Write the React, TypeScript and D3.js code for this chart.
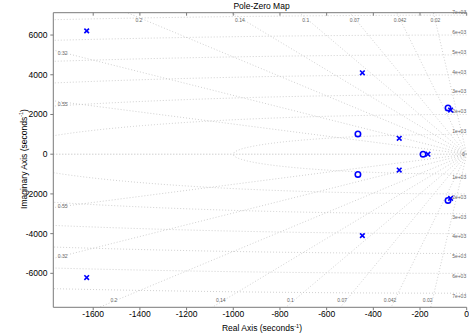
import * as d3 from "d3";
import React, { useRef, useEffect } from "react";

const W = 469;
const H = 335;

// plot box (pixels)
const left = 53.3;
const right = 466.7;
const top = 12.7;
const bottom = 307.3;

// axis limits
const xDomain = [-1771, 0];
const yDomain = [-7710, 7125];

const xTicks = [-1600, -1400, -1200, -1000, -800, -600, -400, -200, 0];
const yTicks = [-6000, -4000, -2000, 0, 2000, 4000, 6000];

// poles (x)
const poleRe = [-1628, -1628, -447, -447, -289, -289, -166, -69, -69];
const poleIm = [6210, -6210, 4100, -4100, 800, -800, 0, 2220, -2220];

// zeros (o)
const zeroRe = [-466, -466, -187, -80, -80];
const zeroIm = [1020, -1020, 0, 2330, -2330];

// grid
const dampingRatios = [0.02, 0.042, 0.07, 0.1, 0.14, 0.2, 0.32, 0.55];
const dampingLabels = ["0.02", "0.042", "0.07", "0.1", "0.14", "0.2", "0.32", "0.55"];
const naturalFreqs = [1000, 2000, 3000, 4000, 5000, 6000, 7000];
const freqLabels = ["1e+03", "2e+03", "3e+03", "4e+03", "5e+03", "6e+03", "7e+03"];

const font = "Liberation Sans, Arial, Helvetica, sans-serif";
const gridColor = "#c4c4c4";
const labelColor = "#666";

function PoleZeroMap() {
  const ref = useRef(null);

  useEffect(() => {
    const svg = d3.select(ref.current);
    svg.selectAll("*").remove();

    const x = d3.scaleLinear().domain(xDomain).range([left, right]);
    const y = d3.scaleLinear().domain(yDomain).range([bottom, top]);

    svg
      .append("defs")
      .append("clipPath")
      .attr("id", "plot-clip")
      .append("rect")
      .attr("x", left)
      .attr("y", top)
      .attr("width", right - left)
      .attr("height", bottom - top);

    const grid = svg.append("g").attr("clip-path", "url(#plot-clip)");

    // natural frequency circles (left half)
    const arc = (w) =>
      d3
        .line()
        .x((t) => x(-w * Math.sin(t)))
        .y((t) => y(w * Math.cos(t)))(d3.range(0, Math.PI + 0.0005, Math.PI / 720));

    grid
      .selectAll(".wn")
      .data(naturalFreqs)
      .join("path")
      .attr("d", (w) => arc(w))
      .attr("fill", "none")
      .attr("stroke", gridColor)
      .attr("stroke-width", 0.8)
      .attr("stroke-dasharray", "1,2");

    // damping rays
    const far = 20000;
    dampingRatios.forEach((z) => {
      const s = Math.sqrt(1 - z * z);
      [1, -1].forEach((sg) => {
        grid
          .append("line")
          .attr("x1", x(0))
          .attr("y1", y(0))
          .attr("x2", x(-z * far))
          .attr("y2", y(sg * s * far))
          .attr("stroke", gridColor)
          .attr("stroke-width", 0.8)
          .attr("stroke-dasharray", "1,2");
      });
    });

    // real axis
    grid
      .append("line")
      .attr("x1", left)
      .attr("x2", right)
      .attr("y1", y(0))
      .attr("y2", y(0))
      .attr("stroke", "#aaa")
      .attr("stroke-width", 0.8)
      .attr("stroke-dasharray", "1,2");

    // damping labels
    const lab = svg.append("g").attr("font-family", font).attr("font-size", 5).attr("fill", labelColor);
    dampingRatios.forEach((z, i) => {
      const slope = Math.sqrt(1 - z * z) / z;
      const reTop = -yDomain[1] / slope;
      if (reTop > xDomain[0]) {
        lab
          .append("text")
          .attr("x", x(-6900 / slope) + 1)
          .attr("y", 21.5)
          .attr("text-anchor", "middle")
          .text(dampingLabels[i]);
        lab
          .append("text")
          .attr("x", x(-7300 / slope) - 5)
          .attr("y", 301.5)
          .attr("text-anchor", "middle")
          .text(dampingLabels[i]);
      } else {
        const im = -xDomain[0] * slope;
        lab
          .append("text")
          .attr("x", left + 4.5)
          .attr("y", y(im) + 5)
          .text(dampingLabels[i]);
        lab
          .append("text")
          .attr("x", left + 4.5)
          .attr("y", y(-im))
          .text(dampingLabels[i]);
      }
    });

    // natural frequency labels
    naturalFreqs.forEach((w, i) => {
      [1, -1].forEach((sg) => {
        lab
          .append("text")
          .attr("x", right - 0.5)
          .attr("y", y(sg * w) - sg * 3 + 1.8)
          .attr("text-anchor", "end")
          .text(freqLabels[i]);
      });
    });
    lab
      .append("text")
      .attr("x", right - 2)
      .attr("y", y(0) + 1.8)
      .attr("text-anchor", "end")
      .text("0");

    // axes box
    const axisColor = "#7a7a7a";
    svg
      .append("path")
      .attr("d", `M${right},${top}H${left}V${bottom}H${right}`)
      .attr("fill", "none")
      .attr("stroke", axisColor)
      .attr("stroke-width", 1);

    const xAxis = svg.append("g").attr("font-family", font).attr("font-size", 8.5);
    xTicks.forEach((t) => {
      xAxis
        .append("line")
        .attr("x1", x(t))
        .attr("x2", x(t))
        .attr("y1", bottom)
        .attr("y2", bottom + 3)
        .attr("stroke", axisColor);
      xAxis
        .append("line")
        .attr("x1", x(t))
        .attr("x2", x(t))
        .attr("y1", top)
        .attr("y2", top + 3)
        .attr("stroke", axisColor);
      xAxis
        .append("text")
        .attr("x", x(t))
        .attr("y", 316.7)
        .attr("text-anchor", "middle")
        .text(t);
    });

    const yAxis = svg.append("g").attr("font-family", font).attr("font-size", 8.5);
    yTicks.forEach((t) => {
      yAxis
        .append("line")
        .attr("x1", left - 3)
        .attr("x2", left)
        .attr("y1", y(t))
        .attr("y2", y(t))
        .attr("stroke", axisColor);
      yAxis
        .append("text")
        .attr("x", 47.5)
        .attr("y", y(t) + 3)
        .attr("text-anchor", "end")
        .text(t);
    });

    // title and axis labels
    svg
      .append("text")
      .attr("x", 261.5)
      .attr("y", 8.5)
      .attr("text-anchor", "middle")
      .attr("font-family", font)
      .attr("font-size", 8.5)
      .text("Pole-Zero Map");

    const xl = svg
      .append("text")
      .attr("x", 262)
      .attr("y", 331)
      .attr("text-anchor", "middle")
      .attr("font-family", font)
      .attr("font-size", 8.5);
    xl.append("tspan").text("Real Axis (seconds");
    xl.append("tspan").attr("font-size", 5.5).attr("dy", -3.5).text("-1");
    xl.append("tspan").attr("dy", 3.5).text(")");

    const yl = svg
      .append("text")
      .attr("transform", "translate(26.5,159) rotate(-90)")
      .attr("text-anchor", "middle")
      .attr("font-family", font)
      .attr("font-size", 8.5);
    yl.append("tspan").text("Imaginary Axis (seconds");
    yl.append("tspan").attr("font-size", 5.5).attr("dy", -3.5).text("-1");
    yl.append("tspan").attr("dy", 3.5).text(")");

    // zeros
    svg
      .append("g")
      .selectAll("circle")
      .data(zeroRe.map((r, i) => [r, zeroIm[i]]))
      .join("circle")
      .attr("cx", (d) => x(d[0]))
      .attr("cy", (d) => y(d[1]))
      .attr("r", 2.7)
      .attr("fill", "none")
      .attr("stroke", "#0000ff")
      .attr("stroke-width", 1.6);

    // poles
    const sz = 2.3;
    svg
      .append("g")
      .selectAll("path")
      .data(poleRe.map((r, i) => [r, poleIm[i]]))
      .join("path")
      .attr("d", (d) => {
        const cx = x(d[0]);
        const cy = y(d[1]);
        return `M${cx - sz},${cy - sz}L${cx + sz},${cy + sz}M${cx - sz},${cy + sz}L${cx + sz},${cy - sz}`;
      })
      .attr("stroke", "#0000ff")
      .attr("stroke-width", 1.6)
      .attr("fill", "none");
  }, []);

  return <svg ref={ref} width={W} height={H} style={{ display: "block" }}></svg>;
}

export default function App() {
  return (
    <div style={{ position: "fixed", left: 0, top: 0, width: W, height: H, background: "#fff" }}>
      <PoleZeroMap />
    </div>
  );
}
